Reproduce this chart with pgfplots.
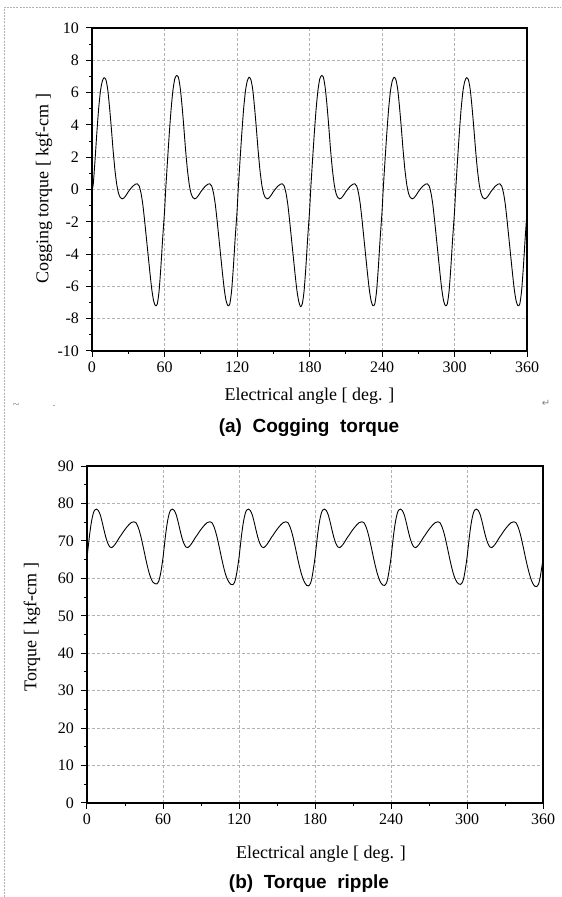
\documentclass[border=0pt]{standalone}
\usepackage{pgfplots}
\pgfplotsset{compat=1.18}
\usepackage{pgfplotstable}
\usepackage{fontspec}
\setmainfont{Liberation Serif}
\setsansfont{Liberation Sans}
\newfontfamily\symfont{DejaVu Sans}

% cogging torque, 6 periods of 60 deg
\pgfplotstableread{
x y
0 0
1 0.3
2.5 1.8
4 3.5
5.5 5.0
7 6.1
8.5 6.7
10 6.92
11.5 6.8
13 6.2
14.5 5.1
16 3.8
17.5 2.4
19 1.2
20.5 0.3
22 -0.25
23.5 -0.5
25 -0.58
26.5 -0.52
28 -0.38
30 -0.15
32 0.05
34 0.22
36 0.33
37.5 0.35
39 0.22
40.5 -0.2
42 -0.9
43.5 -1.9
45 -3.0
46.5 -4.1
48 -5.2
49.5 -6.2
51 -6.9
52.5 -7.2
54 -7.1
55.5 -6.3
57 -4.8
58.5 -3.0
60 -1.4
61 0
62.5 1.8
64 3.5
65.5 5.0
67 6.15
68.5 6.85
70 7.05
71.5 6.95
73 6.3
74.5 5.2
76 3.85
77.5 2.4
79 1.2
80.5 0.3
82 -0.25
83.5 -0.5
85 -0.58
86.5 -0.52
88 -0.38
90 -0.15
92 0.05
94 0.22
96 0.33
97.5 0.35
99 0.22
100.5 -0.2
102 -0.9
103.5 -1.9
105 -3.0
106.5 -4.1
108 -5.2
109.5 -6.2
111 -6.9
112.5 -7.2
114 -7.1
115.5 -6.3
117 -4.8
118.5 -3.0
120 -1.4
121 0
122.5 1.8
124 3.5
125.5 5.0
127 6.1
128.5 6.72
130 6.95
131.5 6.8
133 6.2
134.5 5.1
136 3.8
137.5 2.4
139 1.2
140.5 0.3
142 -0.25
143.5 -0.5
145 -0.58
146.5 -0.52
148 -0.38
150 -0.15
152 0.05
154 0.22
156 0.33
157.5 0.35
159 0.22
160.5 -0.2
162 -0.9
163.5 -1.9
165 -3.0
166.5 -4.1
168 -5.2
169.5 -6.2
171 -6.9
172.5 -7.25
174 -7.1
175.5 -6.3
177 -4.8
178.5 -3.0
180 -1.4
181 0
182.5 1.8
184 3.5
185.5 5.0
187 6.15
188.5 6.85
190 7.05
191.5 6.95
193 6.3
194.5 5.2
196 3.85
197.5 2.4
199 1.2
200.5 0.3
202 -0.25
203.5 -0.5
205 -0.58
206.5 -0.52
208 -0.38
210 -0.15
212 0.05
214 0.22
216 0.33
217.5 0.35
219 0.22
220.5 -0.2
222 -0.9
223.5 -1.9
225 -3.0
226.5 -4.1
228 -5.2
229.5 -6.2
231 -6.9
232.5 -7.2
234 -7.1
235.5 -6.3
237 -4.8
238.5 -3.0
240 -1.4
241 0
242.5 1.8
244 3.5
245.5 5.0
247 6.1
248.5 6.72
250 6.95
251.5 6.8
253 6.2
254.5 5.1
256 3.8
257.5 2.4
259 1.2
260.5 0.3
262 -0.25
263.5 -0.5
265 -0.58
266.5 -0.52
268 -0.38
270 -0.15
272 0.05
274 0.22
276 0.33
277.5 0.35
279 0.22
280.5 -0.2
282 -0.9
283.5 -1.9
285 -3.0
286.5 -4.1
288 -5.2
289.5 -6.2
291 -6.9
292.5 -7.2
294 -7.1
295.5 -6.3
297 -4.8
298.5 -3.0
300 -1.4
301 0
302.5 1.8
304 3.5
305.5 5.0
307 6.1
308.5 6.7
310 6.92
311.5 6.8
313 6.2
314.5 5.1
316 3.8
317.5 2.4
319 1.2
320.5 0.3
322 -0.25
323.5 -0.5
325 -0.58
326.5 -0.52
328 -0.38
330 -0.15
332 0.05
334 0.22
336 0.33
337.5 0.35
339 0.22
340.5 -0.2
342 -0.9
343.5 -1.9
345 -3.0
346.5 -4.1
348 -5.2
349.5 -6.2
351 -6.9
352.5 -7.2
354 -7.1
355.5 -6.3
357 -4.8
358.5 -3.0
360 -1.4
}\cogging

% torque ripple
\pgfplotstableread{
x y
0 65.5
1 68.5
2 71.5
3 74.0
4 76.0
5 77.4
6 78.2
7.5 78.5
9 78.1
10.5 76.9
12 75.0
13.5 72.8
15 70.8
16.5 69.3
18 68.4
19.5 68.2
21 68.6
23 69.5
25 70.6
27 71.6
29 72.6
31 73.5
33 74.3
35 74.9
37 75.1
38.5 74.9
40 74.0
41.5 72.5
43 70.5
44.5 68.2
46 65.8
47.5 63.5
49 61.5
50.5 60.0
52 59.0
53.5 58.6
55 58.5
56.5 59.1
57.5 60.3
58.5 62.0
59.3 63.8
60 65.5
61 68.5
62 71.5
63 74.0
64 76.0
65 77.4
66 78.2
67.5 78.5
69 78.1
70.5 76.9
72 75.0
73.5 72.8
75 70.8
76.5 69.3
78 68.4
79.5 68.2
81 68.6
83 69.5
85 70.6
87 71.6
89 72.6
91 73.5
93 74.3
95 74.9
97 75.1
98.5 74.9
100 74.0
101.5 72.5
103 70.5
104.5 68.2
106 65.8
107.5 63.5
109 61.5
110.5 60.0
112 59.0
113.5 58.4
115 58.3
116.5 58.9
117.5 60.2
118.5 62.0
119.3 63.8
120 65.5
121 68.5
122 71.5
123 74.0
124 76.0
125 77.4
126 78.2
127.5 78.5
129 78.1
130.5 76.9
132 75.0
133.5 72.8
135 70.8
136.5 69.3
138 68.4
139.5 68.2
141 68.6
143 69.5
145 70.6
147 71.6
149 72.6
151 73.5
153 74.3
155 74.9
157 75.1
158.5 74.9
160 74.0
161.5 72.5
163 70.5
164.5 68.2
166 65.8
167.5 63.5
169 61.5
170.5 59.9
172 58.8
173.5 58.1
175 58.0
176.5 58.7
177.5 60.0
178.5 62.0
179.3 63.8
180 65.5
181 68.5
182 71.5
183 74.0
184 76.0
185 77.4
186 78.2
187.5 78.5
189 78.1
190.5 76.9
192 75.0
193.5 72.8
195 70.8
196.5 69.3
198 68.4
199.5 68.2
201 68.6
203 69.5
205 70.6
207 71.6
209 72.6
211 73.5
213 74.3
215 74.9
217 75.1
218.5 74.9
220 74.0
221.5 72.5
223 70.5
224.5 68.2
226 65.8
227.5 63.5
229 61.5
230.5 59.9
232 58.8
233.5 58.2
235 58.1
236.5 58.8
237.5 60.1
238.5 62.0
239.3 63.8
240 65.5
241 68.5
242 71.5
243 74.0
244 76.0
245 77.4
246 78.2
247.5 78.5
249 78.1
250.5 76.9
252 75.0
253.5 72.8
255 70.8
256.5 69.3
258 68.4
259.5 68.2
261 68.6
263 69.5
265 70.6
267 71.6
269 72.6
271 73.5
273 74.3
275 74.9
277 75.1
278.5 74.9
280 74.0
281.5 72.5
283 70.5
284.5 68.2
286 65.8
287.5 63.5
289 61.5
290.5 60.0
292 59.0
293.5 58.5
295 58.4
296.5 59.0
297.5 60.2
298.5 62.0
299.3 63.8
300 65.5
301 68.5
302 71.5
303 74.0
304 76.0
305 77.4
306 78.2
307.5 78.5
309 78.1
310.5 76.9
312 75.0
313.5 72.8
315 70.8
316.5 69.3
318 68.4
319.5 68.2
321 68.6
323 69.5
325 70.6
327 71.6
329 72.6
331 73.5
333 74.3
335 74.9
337 75.1
338.5 74.9
340 74.0
341.5 72.5
343 70.5
344.5 68.2
346 65.8
347.5 63.5
349 61.5
350.5 59.8
352 58.6
353.5 57.9
355 57.8
356.5 58.5
357.5 59.8
358.5 61.8
359.3 63.5
360 65.0
}\ripple

\pgfplotsset{
  refax/.style={
    scale only axis,
    xmin=0, xmax=360,
    xtick={0,60,...,360},
    minor x tick num=1,
    tick pos=left,
    tick align=outside,
    major tick length=3pt,
    minor tick length=1.5pt,
    grid=major,
    major grid style={gray!60, dash pattern=on 1.6pt off 0.9pt, line width=0.35pt},
    axis line style={line width=0.7pt},
    tick style={black, line width=0.5pt},
    tick label style={font=\fontsize{8}{9}\selectfont},
    xticklabel style={yshift=1pt},
    /pgf/number format/assume math mode=true,
  }
}

\begin{document}
\begin{tikzpicture}
\path[use as bounding box] (0,0) rectangle (280.5pt,448.5pt);
\draw[gray!60, dash pattern=on 1pt off 0.6pt, line width=0.3pt]
  (2pt,0) -- (2pt,445pt) -- (280.5pt,445pt);

\begin{axis}[refax,
  at={(46pt,273pt)}, anchor=south west,
  width=217.5pt, height=161.5pt,
  ymin=-10, ymax=10,
  ytick={-10,-8,...,10},
  minor y tick num=1]
\addplot[black, line width=0.45pt, smooth, tension=0.4] table {\cogging};
\end{axis}

\node[font=\fontsize{9}{10}\selectfont] at (154.75pt,250.5pt) {Electrical angle [ deg. ]};
\node[font=\fontsize{9}{10}\selectfont, rotate=90] at (22pt,354pt) {Cogging torque [ kgf-cm ]};
\node[font=\sffamily\bfseries\fontsize{9.5}{11}\selectfont] at (154.5pt,234.5pt) {(a)\ \ Cogging\ \ torque};
\node[font=\symfont\fontsize{5}{6}\selectfont, gray] at (273pt,247pt) {↵};
\node[font=\fontsize{6}{6}\selectfont, gray] at (8pt,245.5pt) {\textasciitilde};
\node[font=\fontsize{6}{6}\selectfont, gray] at (27pt,245.5pt) {.};

\begin{axis}[refax,
  at={(43.5pt,47pt)}, anchor=south west,
  width=228pt, height=168.5pt,
  ymin=0, ymax=90,
  ytick={0,10,...,90},
  minor y tick num=1]
\addplot[black, line width=0.45pt, smooth, tension=0.4] table {\ripple};
\end{axis}

\node[font=\fontsize{9}{10}\selectfont] at (160.5pt,21.5pt) {Electrical angle [ deg. ]};
\node[font=\fontsize{9}{10}\selectfont, rotate=90] at (16pt,135pt) {Torque [ kgf-cm ]};
\node[font=\sffamily\bfseries\fontsize{9.5}{11}\selectfont] at (154.5pt,6.5pt) {(b)\ \ Torque\ \ ripple};
\end{tikzpicture}
\end{document}
